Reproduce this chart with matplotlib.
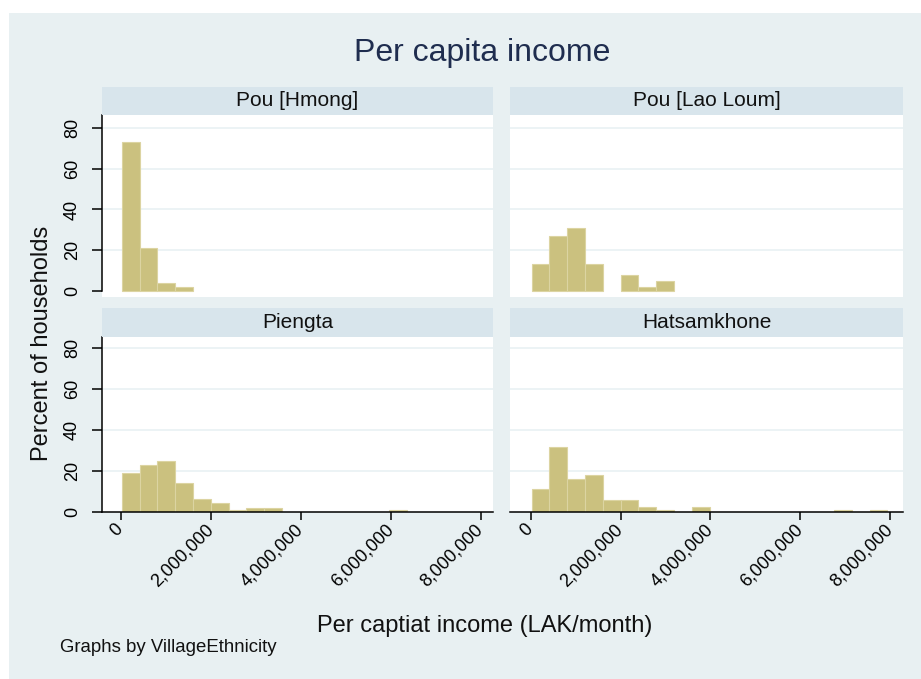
import numpy as np
import matplotlib.pyplot as plt
from matplotlib.patches import Rectangle
from matplotlib.ticker import FuncFormatter

plt.rcParams['font.family'] = ['Liberation Sans', 'DejaVu Sans']

# histogram bins (LAK/month)
bin_start = 22000
bin_width = 396000
n_bins = 20

# percent of households per bin, one list per village
pou_hmong = [73.4, 21.0, 3.6, 1.7, 0, 0, 0, 0, 0, 0,
             0, 0, 0, 0, 0, 0, 0, 0, 0, 0]
pou_lao_loum = [13.2, 26.8, 30.8, 13.2, 0, 7.9, 1.8, 4.6, 0, 0,
                0, 0, 0, 0, 0, 0, 0, 0, 0, 0]
piengta = [18.8, 23.0, 25.0, 13.9, 6.0, 4.1, 1.0, 1.6, 1.6, 0,
           0, 0, 0, 0, 0, 1.0, 0, 0, 0, 0]
hatsamkhone = [10.9, 31.8, 16.0, 18.0, 5.7, 5.7, 2.4, 0.8, 0, 2.3,
               0, 0, 0, 0, 0, 0, 0, 1.0, 0, 1.0]

panel_titles = ['Pou [Hmong]', 'Pou [Lao Loum]', 'Piengta', 'Hatsamkhone']
panel_values = [pou_hmong, pou_lao_loum, piengta, hatsamkhone]
y_ticks = [0, 20, 40, 60, 80]
x_ticks = [0, 2000000, 4000000, 6000000, 8000000]

W, H = 921, 679
bg = '#e8f0f2'
strip_col = '#d8e5ec'
bar_col = '#cbc17f'
bar_edge = '#dcd4a2'
grid_col = '#e9f1f3'

fig = plt.figure(figsize=(W / 100, H / 100), dpi=100, facecolor='white')
fig.patches.append(Rectangle((9 / W, 0), 1 - 9 / W, 1 - 13 / H,
                             transform=fig.transFigure, facecolor=bg,
                             edgecolor='none', zorder=-5))

# pixel boxes: (left, right) per column, (top, bottom) per row
cols = [(101.7, 493.0), (510.0, 903.0)]
col_xlim = [(-422000, 8273000), (-461000, 8290000)]
rows = [(115.0, 297.0), (336.5, 511.7)]
row_ylim = [(-3.2, 86.6), (0, 85.8)]
strip_h = 28.5

edges = bin_start + bin_width * np.arange(n_bins)

for k, (title, vals) in enumerate(zip(panel_titles, panel_values)):
    r, c = divmod(k, 2)
    x0, x1 = cols[c]
    y0, y1 = rows[r]
    ax = fig.add_axes([x0 / W, 1 - y1 / H, (x1 - x0) / W, (y1 - y0) / H])
    ax.set_facecolor('white')

    vals = np.array(vals)
    keep = vals > 0
    ax.bar(edges[keep], vals[keep], width=bin_width, align='edge',
           color=bar_col, edgecolor=bar_edge, linewidth=0.8, zorder=2)

    ax.set_xlim(*col_xlim[c])
    ax.set_ylim(*row_ylim[r])
    ax.set_yticks(y_ticks)
    ax.set_xticks(x_ticks)
    for g in y_ticks[1:]:
        ax.axhline(g, color=grid_col, lw=1.2, zorder=1)

    for s in ['top', 'right']:
        ax.spines[s].set_visible(False)

    if c == 0:
        ax.spines['left'].set_bounds(0, row_ylim[r][1])
        ax.spines['left'].set_linewidth(1.1)
        ax.tick_params(axis='y', direction='out', length=7, width=1.1,
                       pad=8, labelsize=13, labelrotation=90)
        for lab in ax.get_yticklabels():
            lab.set_va('center')
    else:
        ax.spines['left'].set_visible(False)
        ax.tick_params(axis='y', left=False, labelleft=False)

    if r == 1:
        ax.spines['bottom'].set_linewidth(1.1)
        ax.tick_params(axis='x', direction='out', length=6, width=1.1,
                       pad=5, labelsize=13, labelrotation=45)
        ax.xaxis.set_major_formatter(FuncFormatter(lambda v, p: f'{v:,.0f}'))
        for lab in ax.get_xticklabels():
            lab.set_ha('right')
            lab.set_va('center')
            lab.set_rotation_mode('anchor')
    else:
        ax.spines['bottom'].set_visible(False)
        ax.tick_params(axis='x', bottom=False, labelbottom=False)

    # facet header strip
    sax = fig.add_axes([x0 / W, 1 - y0 / H, (x1 - x0) / W, strip_h / H])
    sax.set_facecolor(strip_col)
    sax.set_xticks([])
    sax.set_yticks([])
    for s in sax.spines.values():
        s.set_visible(False)
    sax.text(0.5, 0.5, title, ha='center', va='center', fontsize=15,
             color='#111111', transform=sax.transAxes)

fig.text(482 / W, 1 - 53 / H, 'Per capita income', ha='center', va='center',
         fontsize=23, color='#1f2d4f')
fig.text(42 / W, 1 - 343 / H, 'Percent of households', ha='center',
         va='center', rotation=90, fontsize=17, color='#111111')
fig.text(485 / W, 1 - 626 / H, 'Per captiat income (LAK/month)', ha='center',
         va='center', fontsize=17, color='#111111')
fig.text(60 / W, 1 - 648 / H, 'Graphs by VillageEthnicity', ha='left',
         va='center', fontsize=13.4, color='#111111')

fig.savefig('out.png', dpi=100, facecolor='white')
